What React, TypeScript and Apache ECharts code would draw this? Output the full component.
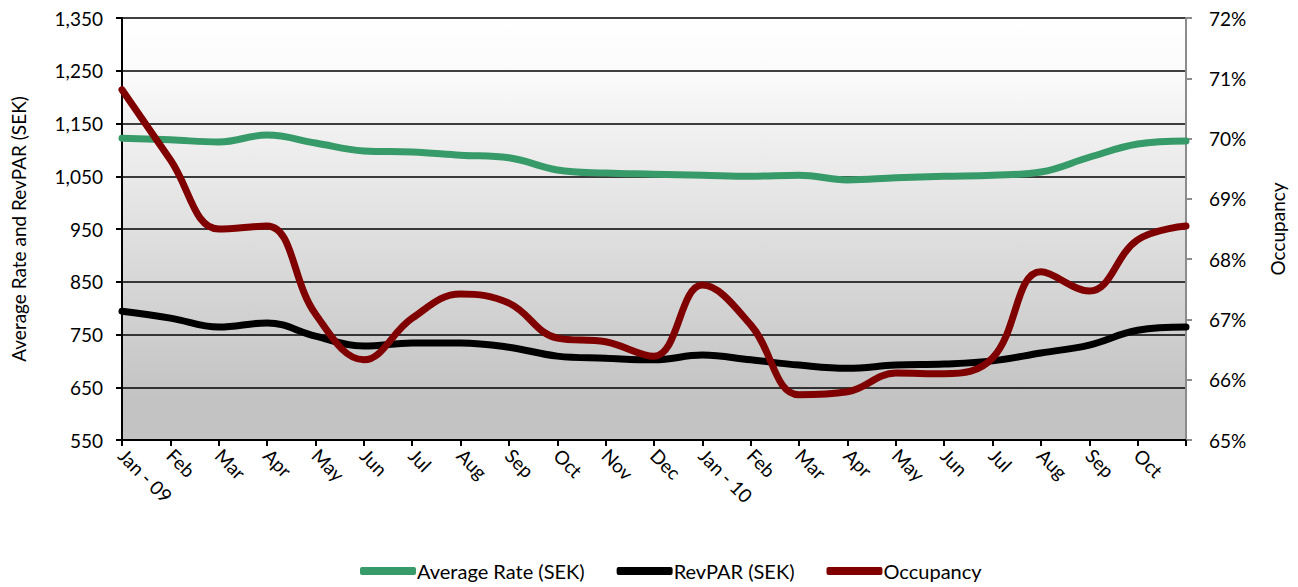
import React, { useEffect, useRef } from "react";
import * as echarts from "echarts";

const months = [
  "Jan - 09", "Feb", "Mar", "Apr", "May", "Jun", "Jul", "Aug", "Sep", "Oct", "Nov", "Dec",
  "Jan - 10", "Feb", "Mar", "Apr", "May", "Jun", "Jul", "Aug", "Sep", "Oct", "Nov",
];

const averageRate = [
  1122, 1119, 1115, 1128, 1113, 1098, 1096, 1090, 1085, 1062, 1056, 1054,
  1052, 1050, 1052, 1043, 1047, 1050, 1052, 1058, 1086, 1111, 1117,
];

const revPar = [
  794, 781, 764, 772, 747, 728, 734, 734, 726, 709, 705, 702,
  711, 702, 692, 686, 692, 694, 700, 715, 730, 758, 764,
];

const occupancy = [
  70.81, 69.65, 68.5, 68.55, 67.09, 66.33, 67.02, 67.42, 67.27, 66.69, 66.63, 66.39,
  67.57, 66.91, 65.75, 65.8, 66.11, 66.1, 66.36, 67.79, 67.47, 68.32, 68.55,
];

const FONT = "Lato, 'Noto Sans', sans-serif";

export default function App() {
  const ref = useRef<HTMLDivElement>(null);

  useEffect(() => {
    if (!ref.current) return;
    const chart = echarts.init(ref.current, undefined, { renderer: "svg" });
    chart.setOption({
      animation: false,
      textStyle: { fontFamily: FONT },
      grid: {
        left: 122,
        right: 112,
        top: 18,
        bottom: 147,
        outerBoundsMode: "none",
        containLabel: false,
        show: true,
        borderWidth: 0,
        backgroundColor: new echarts.graphic.LinearGradient(0, 0, 0, 1, [
          { offset: 0, color: "#ffffff" },
          { offset: 0.12, color: "#fbfbfb" },
          { offset: 0.9, color: "#c3c3c3" },
          { offset: 1, color: "#c3c3c3" },
        ]),
      },
      legend: {
        bottom: 1,
        left: 355,
        itemWidth: 56,
        itemHeight: 8,
        itemGap: 32,
        icon: "roundRect",
        textStyle: { fontSize: 20, color: "#000", fontFamily: FONT, padding: [0, 0, 0, -4] },
        data: ["Average Rate (SEK)", "RevPAR (SEK)", "Occupancy"],
      },
      xAxis: {
        type: "category",
        data: months,
        boundaryGap: false,
        axisLine: { lineStyle: { color: "#000", width: 2 } },
        axisTick: { show: true, length: 6, lineStyle: { color: "#000", width: 2 }, interval: 0 },
        axisLabel: {
          rotate: -45,
          interval: (i: number) => i < months.length - 1,
          color: "#000",
          fontSize: 19,
          margin: 12,
          fontFamily: FONT,
        },
        splitLine: { show: false },
      },
      yAxis: [
        {
          type: "value",
          min: 550,
          max: 1350,
          interval: 100,
          position: "left",
          name: "Average Rate and RevPAR (SEK)",
          nameLocation: "middle",
          nameRotate: 90,
          nameGap: 94,
          nameTextStyle: { fontSize: 19, color: "#000", fontFamily: FONT },
          axisLine: { show: true, lineStyle: { color: "#000", width: 2 } },
          axisTick: { show: true, length: 6, lineStyle: { color: "#000", width: 2 } },
          axisLabel: {
            color: "#000",
            fontSize: 19,
            margin: 19,
            fontFamily: FONT,
            formatter: (v: number) => v.toLocaleString("en-US"),
          },
          splitLine: { show: true, lineStyle: { color: "#000", width: 1.5 } },
        },
        {
          type: "value",
          min: 65,
          max: 72,
          interval: 1,
          position: "right",
          name: "Occupancy",
          nameLocation: "middle",
          nameRotate: 90,
          nameGap: 82,
          nameTextStyle: { fontSize: 19, color: "#000", fontFamily: FONT },
          axisLine: { show: true, lineStyle: { color: "#8c8c8c", width: 2 } },
          axisTick: { show: true, length: 6, lineStyle: { color: "#8c8c8c", width: 2 } },
          axisLabel: {
            color: "#000",
            fontSize: 19,
            margin: 23,
            fontFamily: FONT,
            formatter: (v: number) => `${v}%`,
          },
          splitLine: { show: false },
        },
      ],
      series: [
        {
          name: "Average Rate (SEK)",
          type: "line",
          yAxisIndex: 0,
          data: averageRate,
          smooth: 0.4,
          symbol: "none",
          color: "#379b69",
          lineStyle: { width: 7, color: "#379b69", cap: "round" },
        },
        {
          name: "RevPAR (SEK)",
          type: "line",
          yAxisIndex: 0,
          data: revPar,
          smooth: 0.4,
          symbol: "none",
          color: "#000000",
          lineStyle: { width: 7, color: "#000000", cap: "round" },
        },
        {
          name: "Occupancy",
          type: "line",
          yAxisIndex: 1,
          data: occupancy,
          smooth: 0.4,
          symbol: "none",
          color: "#800000",
          lineStyle: { width: 7, color: "#800000", cap: "round" },
        },
      ],
    });
    return () => chart.dispose();
  }, []);

  return <div ref={ref} style={{ width: 1298, height: 587, position: "absolute", left: 0, top: 0 }} />;
}
